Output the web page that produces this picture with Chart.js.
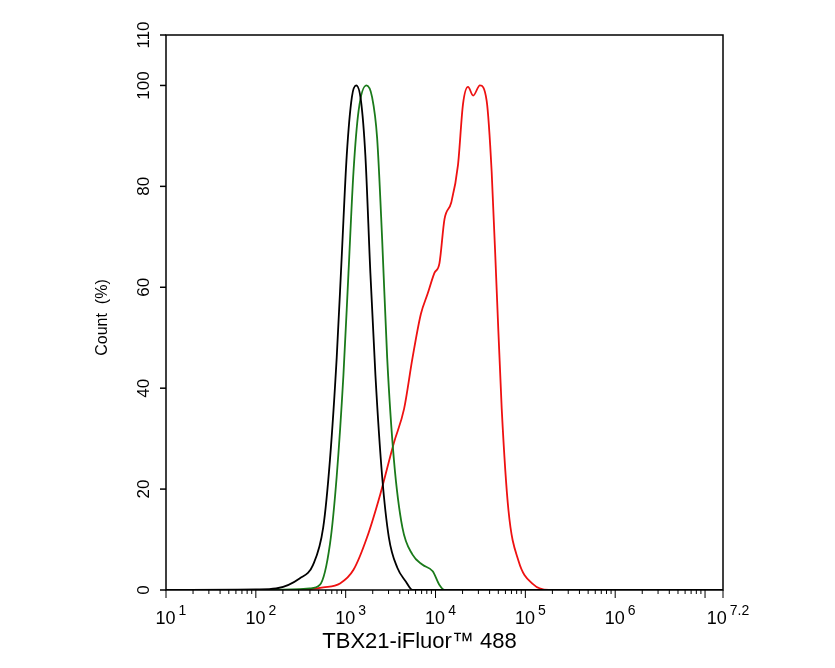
<!DOCTYPE html>
<html><head><meta charset="utf-8">
<script src="https://cdn.jsdelivr.net/npm/chart.js@4"></script>
<style>html,body{margin:0;padding:0;background:#fff}#w{width:835px;height:668px}</style>
</head><body><div id="w"><canvas id="c"></canvas></div>
<script>
// x values given as log10(intensity)
const blackLog = [1.0,1.8,2.0,2.225,2.487,2.637,2.75,2.825,2.9,2.956,3.012,3.069,3.117,3.17,3.219,3.275,3.331,3.406,3.481,3.575,3.669,3.744,4.0,7.2];
const blackVal = [0,0.05,0.1,0.3,2.3,5.0,12.4,25.8,46,66.1,86.2,97.7,100,97,86.2,62.8,42.6,22.5,10.4,4.4,1.7,0,0,0];
const greenLog = [1.0,2.0,2.4,2.6,2.712,2.825,2.9,2.975,3.031,3.087,3.144,3.23,3.294,3.35,3.406,3.462,3.537,3.631,3.744,3.856,3.969,4.044,4.1,7.2];
const greenVal = [0,0,0.1,0.3,1.0,9.1,22.5,42.6,62.8,82.9,95,100,97.7,89.6,69.5,46,25.8,12.4,7.0,5.0,3.7,1.0,0,0];
const redLog = [1.0,2.3,2.562,2.75,2.937,3.087,3.237,3.387,3.537,3.65,3.744,3.837,3.912,3.987,4.044,4.1,4.175,4.25,4.306,4.362,4.419,4.494,4.569,4.625,4.681,4.737,4.812,4.925,5.075,5.262,7.2];
const redVal = [0,0,0.1,0.5,1.3,4.0,10.4,19.1,29.2,35.9,46,54.7,58.7,62.8,64.8,73.5,76.8,84.2,96.3,99.7,98,100,97,82.9,59.4,35.9,15.8,5.7,1.3,0,0];
const yTicks = [0,20,40,60,80,100,110];
const xTickExps = ['1','2','3','4','5','6','7.2'];
const toPts = (lx, v) => lx.map((e,i)=>({x:Math.pow(10,e), y:v[i]}));

const deco = {
  id:'deco',
  afterDraw(ch){
    const {ctx, chartArea:a, scales:{x, y}} = ch;
    ctx.save();
    ctx.strokeStyle='#000'; ctx.lineWidth=1.5;
    ctx.strokeRect(a.left, a.top, a.right-a.left, a.bottom-a.top);
    ctx.fillStyle='#000';
    ctx.font='17px "Liberation Sans", Arial';
    ctx.textAlign='center'; ctx.textBaseline='middle';
    yTicks.forEach(t=>{
      const py=y.getPixelForValue(t);
      ctx.beginPath(); ctx.moveTo(a.left-6,py); ctx.lineTo(a.left,py); ctx.stroke();
      ctx.save(); ctx.translate(a.left-22,py); ctx.rotate(-Math.PI/2); ctx.fillText(String(t),0,0); ctx.restore();
    });
    ctx.lineWidth=1;
    for(let d=1; d<=7; d++){
      for(let k=1;k<=9;k++){
        const v=k*Math.pow(10,d); if(Math.log10(v)>7.2) break;
        const px=x.getPixelForValue(v);
        ctx.beginPath(); ctx.moveTo(px,a.bottom); ctx.lineTo(px,a.bottom+(k===1?8:4)); ctx.stroke();
      }
    }
    const pe=x.getPixelForValue(Math.pow(10,7.2));
    ctx.beginPath(); ctx.moveTo(pe,a.bottom); ctx.lineTo(pe,a.bottom+8); ctx.stroke();
    xTickExps.forEach(e=>{
      const px=x.getPixelForValue(Math.pow(10,parseFloat(e)));
      ctx.font='18px "Liberation Sans", Arial'; ctx.textBaseline='alphabetic';
      const w1=ctx.measureText('10 ').width;
      ctx.font='14px "Liberation Sans", Arial';
      const w2=ctx.measureText(e).width;
      const x0=px-(w1+w2)/2+6;
      ctx.textAlign='left';
      ctx.font='18px "Liberation Sans", Arial';
      ctx.fillText('10',x0,a.bottom+34);
      ctx.font='14px "Liberation Sans", Arial';
      ctx.fillText(e,x0+w1-2,a.bottom+25);
    });
    ctx.textAlign='center';
    ctx.font='22px "Liberation Sans", Arial';
    ctx.fillText('TBX21-iFluor™ 488',(a.left+a.right)/2-25,a.bottom+58);
    ctx.font='16px "Liberation Sans", Arial';
    ctx.save(); ctx.translate(107,(a.top+a.bottom)/2+5); ctx.rotate(-Math.PI/2); ctx.fillText('Count  (%)',0,0); ctx.restore();
    ctx.restore();
  }
};

new Chart(document.getElementById('c'),{
  type:'line',
  data:{datasets:[
    {data:toPts(blackLog,blackVal),borderColor:'#000',borderWidth:1.8,pointRadius:0,tension:0.4,cubicInterpolationMode:'monotone'},
    {data:toPts(greenLog,greenVal),borderColor:'#1a7a1a',borderWidth:1.8,pointRadius:0,tension:0.4,cubicInterpolationMode:'monotone'},
    {data:toPts(redLog,redVal),borderColor:'#ee1111',borderWidth:1.8,pointRadius:0,tension:0.4,cubicInterpolationMode:'monotone'}
  ]},
  options:{
    responsive:true, maintainAspectRatio:false, animation:false,
    layout:{padding:{left:166,right:112,top:35,bottom:78}},
    plugins:{legend:{display:false},tooltip:{enabled:false}},
    scales:{
      x:{type:'logarithmic',min:10,max:Math.pow(10,7.2),display:false},
      y:{type:'linear',min:0,max:110,display:false}
    }
  },
  plugins:[deco]
});
</script></body></html>
